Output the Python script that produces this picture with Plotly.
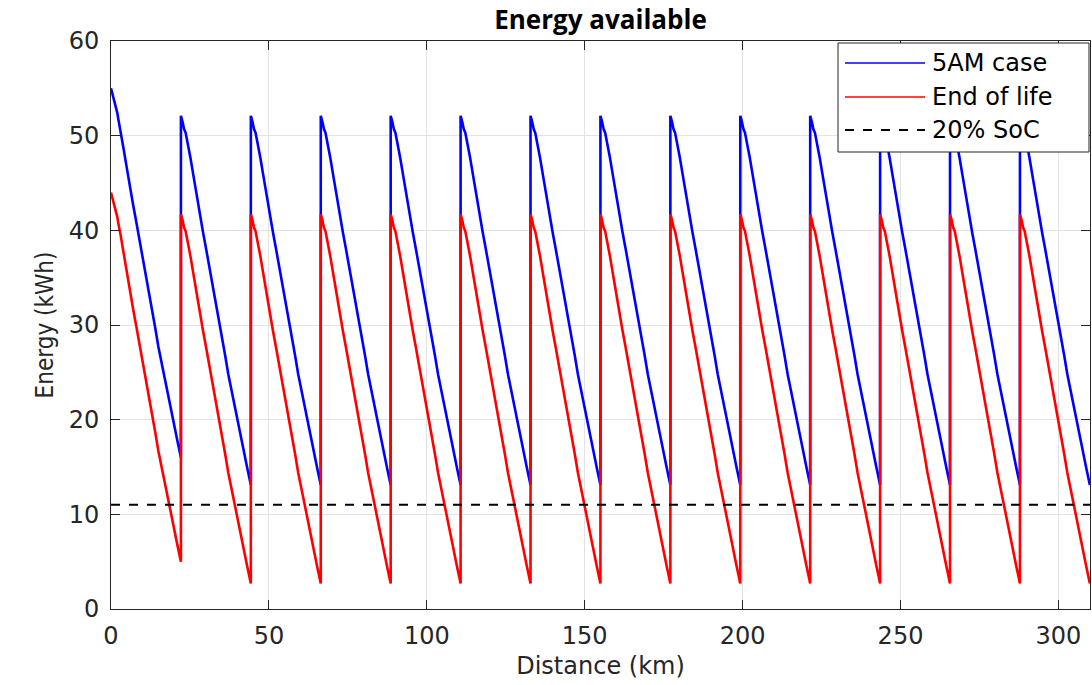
import plotly.graph_objects as go

# ---- data ----
trip_length_km = 22.14
n_trips = 14
# energy at the start of each trip (kWh)
start_5am = [55.0] + [52.1] * 13
start_eol = [44.0] + [41.7] * 13
# cumulative energy used within one trip (km into trip -> kWh used)
profile_km = [0, 0.5, 1, 1.5, 2, 2.5, 3, 4, 5, 6, 7, 8, 9, 10, 11, 12, 13, 14, 15, 16, 17, 18, 19, 20, 21, 22.14]
profile_used_kwh = [0, 0.6, 1.4, 1.8, 2.6, 3.6, 4.4, 6.4, 8.4, 10.6, 12.3, 14.1, 15.9, 17.9, 19.9, 21.7,
                    23.5, 25.3, 27.3, 29.0, 30.6, 32.2, 33.9, 35.6, 37.2, 39.0]
soc20_kwh = 11.0
x_range = [0, 310]

x_ticks = [0, 50, 100, 150, 200, 250, 300]
y_ticks = [0, 10, 20, 30, 40, 50, 60]


def build(starts):
    xs, ys = [], []
    for i, s in enumerate(starts):
        x0 = i * trip_length_km
        for d, c in zip(profile_km, profile_used_kwh):
            xs.append(x0 + d)
            ys.append(s - c)
    return xs, ys


bx, by = build(start_5am)
rx, ry = build(start_eol)

BLUE = "#0000ff"
RED = "#ff0000"
AX = "#262626"
TICKFONT = dict(family="DejaVu Sans", size=24, color=AX)

fig = go.Figure()
fig.add_trace(go.Scatter(x=bx, y=by, mode="lines", name="5AM case",
                         line=dict(color=BLUE, width=2.6), showlegend=False))
fig.add_trace(go.Scatter(x=rx, y=ry, mode="lines", name="End of life",
                         line=dict(color=RED, width=2.6), showlegend=False))
fig.add_trace(go.Scatter(x=x_range, y=[soc20_kwh, soc20_kwh], mode="lines", name="20% SoC",
                         line=dict(color="black", width=2, dash="dash"), showlegend=False))

# custom legend box (MATLAB style)
lx0, lx1, ly0, ly1 = 838, 1089, 43, 152
W, H = 1092, 685
ml, mr, mt, mb = 111, 2, 41, 76
pw, ph = W - ml - mr, H - mt - mb


def px2paper(x, y):
    return (x - ml) / pw, 1 - (y - mt) / ph


shapes = []
a0 = px2paper(lx0, ly0)
a1 = px2paper(lx1, ly1)
shapes.append(dict(type="rect", xref="paper", yref="paper", x0=a0[0], y0=a1[1], x1=a1[0], y1=a0[1],
                   line=dict(color=AX, width=1), fillcolor="white", layer="above"))
annotations = []
entries = [("5AM case", BLUE, "solid", 1.6), ("End of life", RED, "solid", 1.6), ("20% SoC", "black", "dash", 1.8)]
rows = [63, 97, 130]
for (txt, col, dash, wd), ry_ in zip(entries, rows):
    p0 = px2paper(845, ry_)
    p1 = px2paper(925, ry_)
    shapes.append(dict(type="line", xref="paper", yref="paper", x0=p0[0], y0=p0[1], x1=p1[0], y1=p1[1],
                       line=dict(color=col, width=wd, dash=dash), layer="above"))
    pt = px2paper(930, ry_)
    annotations.append(dict(text=txt, xref="paper", yref="paper", x=pt[0], y=pt[1],
                            xanchor="left", yanchor="middle", showarrow=False,
                            font=dict(family="DejaVu Sans", size=24, color="black")))

fig.update_layout(
    width=W, height=H,
    margin=dict(l=ml, r=mr, t=mt, b=mb),
    paper_bgcolor="white", plot_bgcolor="white",
    title=dict(text="<b>Energy available</b>", x=0.5 * (ml + W - mr) / W, xanchor="center",
               y=1 - 20 / H, yanchor="middle",
               font=dict(family="Open Sans", size=26, color="black")),
    xaxis=dict(range=x_range, tickvals=x_ticks, ticks="inside", ticklen=9, tickcolor=AX,
               showline=True, linecolor=AX, linewidth=1, mirror="ticks",
               showgrid=True, gridcolor="#e3e3e3", gridwidth=1, zeroline=False,
               tickfont=TICKFONT, ticklabelstandoff=5,
               title=dict(text="Distance (km)", font=dict(family="DejaVu Sans", size=24, color=AX), standoff=8)),
    yaxis=dict(range=[0, 60], tickvals=y_ticks, ticks="inside", ticklen=9, tickcolor=AX,
               showline=True, linecolor=AX, linewidth=1, mirror="ticks",
               showgrid=True, gridcolor="#e3e3e3", gridwidth=1, zeroline=False,
               tickfont=TICKFONT, ticklabelstandoff=6,
               title=dict(text="Energy (kWh)",
                          font=dict(family="DejaVu Sans Condensed, Liberation Sans, sans-serif", size=24, color=AX),
                          standoff=8)),
    shapes=shapes, annotations=annotations, showlegend=False,
)

fig.write_html("out.html")
